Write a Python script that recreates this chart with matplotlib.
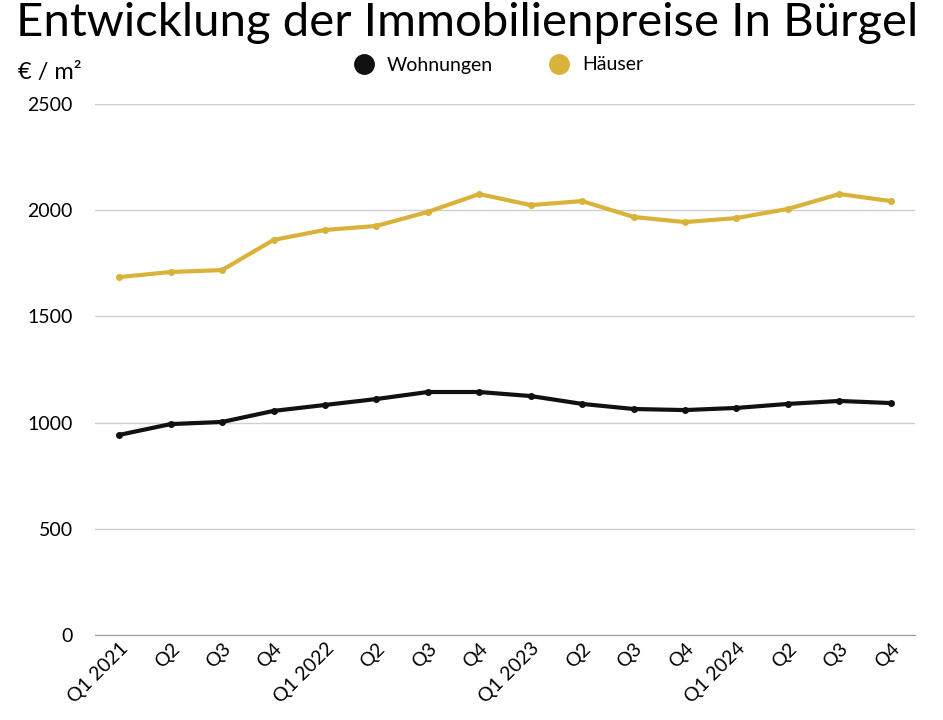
import matplotlib.pyplot as plt

quarters = ["Q1 2021", "Q2", "Q3", "Q4", "Q1 2022", "Q2", "Q3", "Q4",
            "Q1 2023", "Q2", "Q3", "Q4", "Q1 2024", "Q2", "Q3", "Q4"]
wohnungen = [942, 993, 1003, 1055, 1083, 1111, 1144, 1144,
             1125, 1088, 1064, 1059, 1069, 1088, 1102, 1092]
haeuser = [1685, 1709, 1718, 1860, 1907, 1926, 1992, 2076,
           2024, 2043, 1968, 1944, 1963, 2006, 2076, 2043]

plt.rcParams["font.family"] = "Lato"

fig = plt.figure(figsize=(9.43, 7.2), dpi=100)
ax = fig.add_axes([95/943, 1 - 635/720, 820/943, 531/720])

x = list(range(len(quarters)))
ax.plot(x, wohnungen, color="#111111", lw=3, marker="o", ms=4, label="Wohnungen")
ax.plot(x, haeuser, color="#d9b23a", lw=3, marker="o", ms=4, label="Häuser")

ax.set_ylim(0, 2500)
ax.set_xlim(-0.47, 15.47)
ax.set_yticks([0, 500, 1000, 1500, 2000, 2500])
ax.grid(axis="y", color="#d0d0d0", lw=1)
ax.set_axisbelow(True)
for s in ["top", "right", "left"]:
    ax.spines[s].set_visible(False)
ax.spines["bottom"].set_color("#999999")
ax.tick_params(axis="y", length=0, labelsize=14, pad=16)
ax.tick_params(axis="x", length=0, labelsize=14)
ax.set_xticks(x)
ax.set_xticklabels(quarters, rotation=45, ha="right", rotation_mode="anchor")

fig.text(0.495, 0.997, "Entwicklung der Immobilienpreise In Bürgel", ha="center",
         va="top", fontsize=34)
fig.text(18/943, 1 - 72/720, "€ / m²", fontsize=17, va="center")
leg = fig.legend(loc="center", bbox_to_anchor=(0.53, 1 - 65/720), ncol=2,
                 frameon=False, fontsize=14, handlelength=0.8, columnspacing=3)
for h in leg.legend_handles:
    h.set_linestyle("")
    h.set_marker("o")
    h.set_markersize(14)

fig.savefig("out.png", dpi=100)
